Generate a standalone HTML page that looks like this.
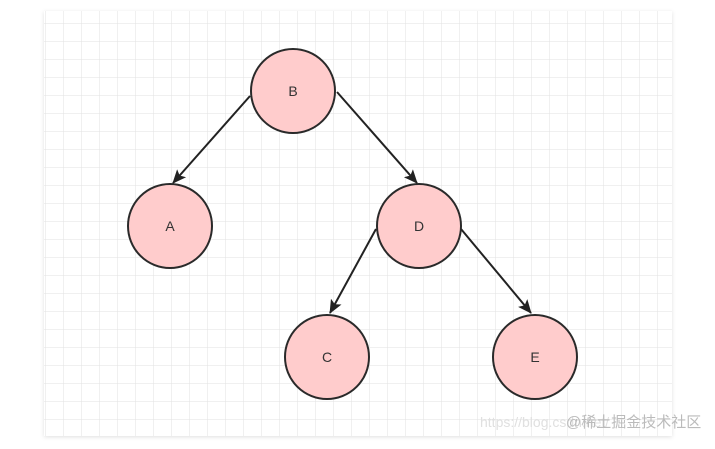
<!DOCTYPE html>
<html><head><meta charset="utf-8"><style>
body{margin:0;background:#fff;width:715px;height:444px;overflow:hidden}
</style></head><body>
<svg width="715" height="444" xmlns="http://www.w3.org/2000/svg">
<defs>
<pattern id="g" x="45" y="5" width="18" height="18" patternUnits="userSpaceOnUse">
<path d="M0 0H18M0 0V18" stroke="#e2e2e2" stroke-width="1" fill="none"/>
</pattern>
<filter id="s" x="-5%" y="-5%" width="110%" height="110%"><feDropShadow dx="0" dy="1" stdDeviation="2" flood-opacity="0.12"/></filter>
<marker id="a" markerWidth="14" markerHeight="14" refX="13" refY="7" orient="auto" markerUnits="userSpaceOnUse" viewBox="0 0 14 14">
<path d="M0 1L14 7L0 13L3 7z" fill="#222"/></marker>
</defs>
<rect x="44" y="11" width="628" height="425" fill="#fff" filter="url(#s)"/>
<rect x="44" y="11" width="628" height="425" fill="url(#g)"/>
<g stroke="#222" stroke-width="2" marker-end="url(#a)">
<line x1="250" y1="96" x2="173" y2="183"/>
<line x1="337" y1="92" x2="417" y2="183"/>
<line x1="376" y1="229" x2="330" y2="313"/>
<line x1="461" y1="229" x2="531" y2="313"/>
</g>
<g fill="#ffcccc" stroke="#2a2a2a" stroke-width="2">
<circle cx="293" cy="91" r="42"/>
<circle cx="170" cy="226" r="42"/>
<circle cx="419" cy="226" r="42"/>
<circle cx="327" cy="357" r="42"/>
<circle cx="535" cy="357" r="42"/>
</g>
<g font-family="Liberation Sans, sans-serif" font-size="14" fill="#333" text-anchor="middle">
<text x="293" y="96">B</text><text x="170" y="231">A</text><text x="419" y="231">D</text>
<text x="327" y="362">C</text><text x="535" y="362">E</text>
</g>
<text x="480" y="427" font-family="Liberation Sans, sans-serif" font-size="14" fill="#e0e0e0">https://blog.csdn.net/</text>
<text x="566" y="427" font-family="Liberation Sans, 'Noto Sans CJK SC', sans-serif" font-size="15" fill="#bbb">@稀土掘金技术社区</text>
</svg>
</body></html>
